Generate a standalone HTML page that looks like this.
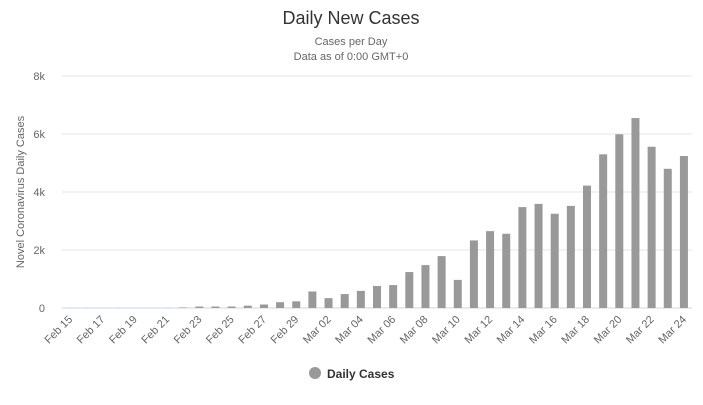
<!DOCTYPE html>
<html><head><meta charset="utf-8"><style>
body{margin:0;background:#fff;font-family:"Liberation Sans",Arial,sans-serif}
svg text{font-family:"Liberation Sans",Arial,sans-serif}
</style></head><body>
<svg width="703" height="400">
<text x="351" y="24" text-anchor="middle" font-size="18" fill="#333">Daily New Cases</text>
<text x="351" y="45" text-anchor="middle" font-size="11" fill="#666">Cases per Day</text>
<text x="351" y="60" text-anchor="middle" font-size="11" fill="#666">Data as of 0:00 GMT+0</text>
<text transform="translate(24,192) rotate(-90)" text-anchor="middle" font-size="11" fill="#666">Novel Coronavirus Daily Cases</text>
<g id="grid"></g><g id="bars"></g><g id="xl"></g>
<circle cx="315" cy="373" r="6" fill="#999"/>
<text x="327" y="378" font-size="12" font-weight="bold" fill="#333">Daily Cases</text>
</svg>
<script>
const categories=["Feb 15","Feb 16","Feb 17","Feb 18","Feb 19","Feb 20","Feb 21","Feb 22","Feb 23","Feb 24","Feb 25","Feb 26","Feb 27","Feb 28","Feb 29","Mar 01","Mar 02","Mar 03","Mar 04","Mar 05","Mar 06","Mar 07","Mar 08","Mar 09","Mar 10","Mar 11","Mar 12","Mar 13","Mar 14","Mar 15","Mar 16","Mar 17","Mar 18","Mar 19","Mar 20","Mar 21","Mar 22","Mar 23","Mar 24"];
const values=[2,3,2,3,2,3,4,20,50,50,50,80,120,200,230,570,340,480,590,760,790,1240,1480,1790,970,2330,2650,2560,3480,3590,3250,3520,4220,5300,5990,6550,5560,4800,5240];
const yTicks=[0,2000,4000,6000,8000];
const yTickLabels=["0","2k","4k","6k","8k"];
const NS="http://www.w3.org/2000/svg";
const X0=62,X1=692,Y0=308,Y1=76,YMAX=8000;
const bw=(X1-X0)/categories.length;
const y=v=>Y0-(v/YMAX)*(Y0-Y1);
const xc=i=>X0+bw*(i+0.5);
function mk(t,a,p){const e=document.createElementNS(NS,t);for(const k in a)e.setAttribute(k,a[k]);p.appendChild(e);return e;}
const g=document.getElementById('grid');
yTicks.forEach((t,i)=>{
 const l=mk('line',{x1:X0,x2:X1,y1:y(t),y2:y(t),stroke:i==0?'#ccd6eb':'#e6e6e6','stroke-width':1},g);
 
 
 const tx=mk('text',{x:X0-17,y:y(t)+4,'text-anchor':'end','font-size':11,fill:'#666'},g);
 tx.textContent=yTickLabels[i];
 
 
});
const b=document.getElementById('bars');
values.forEach((v,i)=>{
 const r=mk('rect',{x:xc(i)-4,y:y(v),width:8,height:Y0-y(v),fill:'#999'},b);
 
 
});
const xl=document.getElementById('xl');
categories.forEach((c,i)=>{
 if(i%2)return;
 const t=mk('text',{transform:`translate(${xc(i)+3},${Y0+12}) rotate(-45)`,'text-anchor':'end','font-size':11,fill:'#666'},xl);
 t.textContent=c;
 
 
});
</script>
</body></html>
